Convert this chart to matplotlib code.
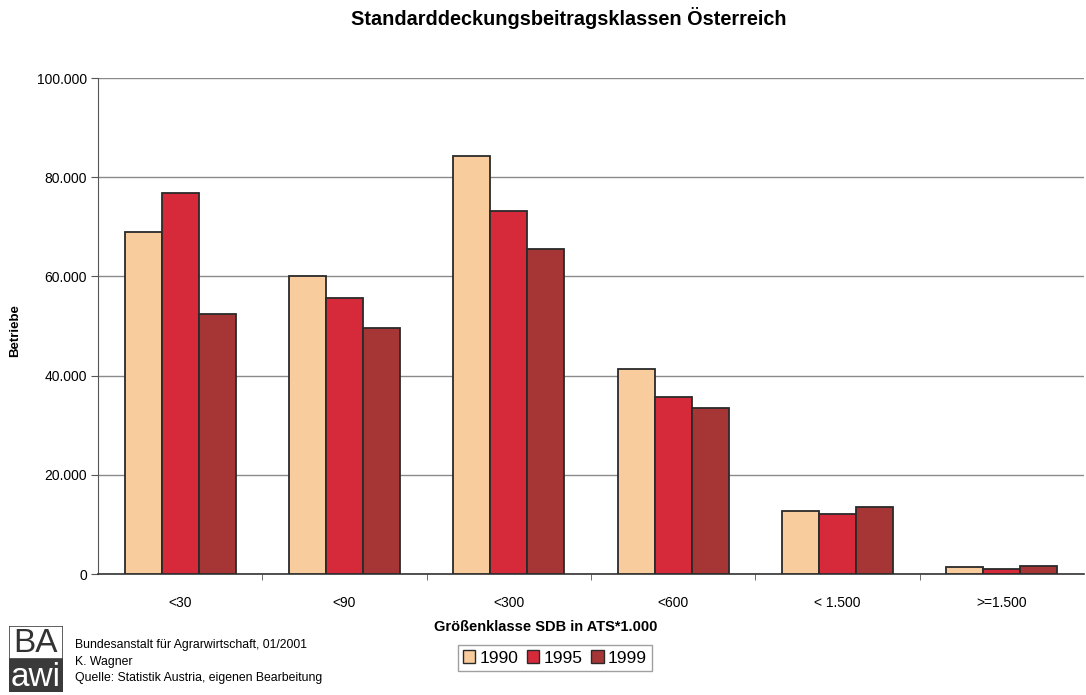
import numpy as np
import matplotlib
matplotlib.use('Agg')
import matplotlib.pyplot as plt
from matplotlib.patches import Patch, Rectangle
from matplotlib.ticker import FuncFormatter

plt.rcParams['font.family'] = ['Liberation Sans', 'DejaVu Sans']

# Data
categories = ['<30', '<90', '<300', '<600', '< 1.500', '>=1.500']
years = ['1990', '1995', '1999']
b1990 = [69000, 60100, 84300, 41300, 12700, 1350]
b1995 = [76800, 55600, 73200, 35700, 12000, 1050]
b1999 = [52400, 49600, 65500, 33500, 13600, 1550]
colors = ['#F8CC9C', '#D62A3A', '#A63636']

W, H = 1086, 695
fig = plt.figure(figsize=(W / 100, H / 100), dpi=100)
fig.patch.set_facecolor('white')

# main axes
ax = fig.add_axes([98 / W, 1 - 574 / H, 986 / W, (574 - 78) / H])
x = np.arange(len(categories))
bw = 0.225
for i, (vals, c) in enumerate(zip([b1990, b1995, b1999], colors)):
    ax.bar(x + (i - 1) * bw, vals, width=bw, color=c, edgecolor='#2a2a2a',
           linewidth=1.3, zorder=3)

ax.set_xlim(-0.5, len(categories) - 0.5)
ax.set_ylim(0, 100000)
ax.set_yticks(np.arange(0, 100001, 20000))
ax.yaxis.set_major_formatter(FuncFormatter(lambda v, p: f'{int(v):,}'.replace(',', '.')))
ax.grid(axis='y', color='#8a8a8a', linewidth=1.0, zorder=0)
ax.set_xticks(x)
ax.set_xticklabels(categories, fontsize=10)
ax.set_xticks(np.arange(0.5, len(categories) - 0.5, 1), minor=True)
ax.tick_params(axis='x', which='major', length=0, pad=16)
ax.tick_params(axis='x', which='minor', length=4, direction='out', color='#555555')
ax.tick_params(axis='y', length=5, direction='out', color='#555555', labelsize=10, pad=3)
for s in ['top', 'right']:
    ax.spines[s].set_visible(False)
ax.spines['left'].set_color('#555555')
ax.spines['bottom'].set_color('#333333')
ax.spines['bottom'].set_linewidth(1.2)

ax.set_ylabel('Betriebe', fontsize=9.5, fontweight='bold')
ax.yaxis.set_label_coords(-0.078, 0.49)

fig.text(569 / W, 1 - 18 / H, 'Standarddeckungsbeitragsklassen Österreich',
         ha='center', va='center', fontsize=14.3, fontweight='bold')
fig.text(546 / W, 1 - 627 / H, 'Größenklasse SDB in ATS*1.000',
         ha='center', va='center', fontsize=10.5, fontweight='bold')

# legend
handles = [Patch(facecolor=c, edgecolor='#2a2a2a', linewidth=1.0) for c in colors]
leg = fig.legend(handles, years, loc='center', bbox_to_anchor=(555 / W, 1 - 658 / H),
                 ncol=3, fontsize=12.5, frameon=True, fancybox=False,
                 handlelength=0.7, handleheight=0.7, handletextpad=0.25,
                 columnspacing=0.5, borderpad=0.3)
leg.get_frame().set_edgecolor('#888888')
leg.get_frame().set_linewidth(1.0)

# logo
lax = fig.add_axes([9 / W, 1 - 692 / H, 54 / W, 66 / H])
lax.set_xlim(0, 1)
lax.set_ylim(0, 1)
lax.axis('off')
lax.add_patch(Rectangle((0, 0.5), 1, 0.5, facecolor='white', edgecolor='#444444', linewidth=1.2))
lax.add_patch(Rectangle((0, 0), 1, 0.5, facecolor='#3a3a3a', edgecolor='#3a3a3a'))
lax.text(0.5, 0.74, 'BA', ha='center', va='center', fontsize=24, color='#333333')
lax.text(0.5, 0.22, 'awi', ha='center', va='center', fontsize=24, color='white')

footer = ['Bundesanstalt für Agrarwirtschaft, 01/2001', 'K. Wagner',
          'Quelle: Statistik Austria, eigenen Bearbeitung']
for k, line in enumerate(footer):
    fig.text(75 / W, 1 - (645 + 16.5 * k) / H, line, ha='left', va='center', fontsize=8.8)

fig.savefig('out.png', dpi=100)
